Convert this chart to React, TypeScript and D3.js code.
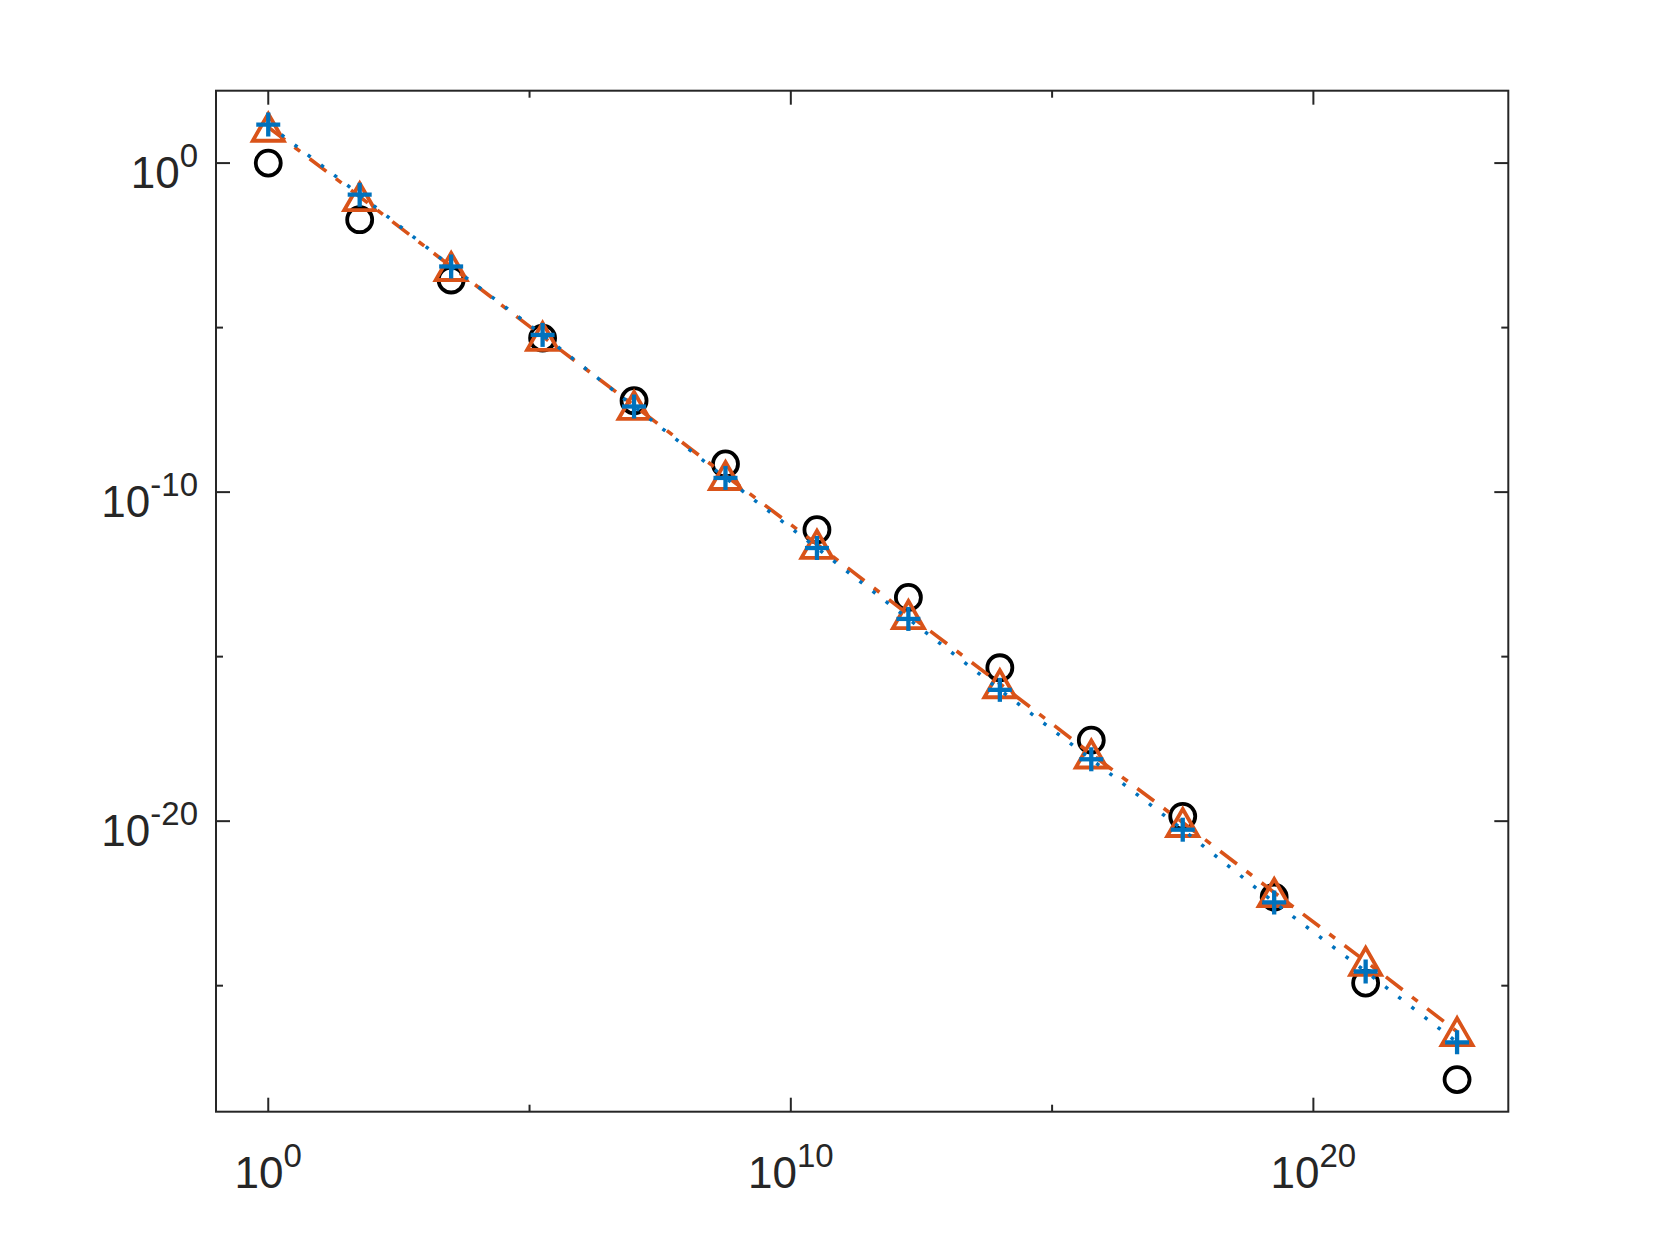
import React from "react";
import * as d3 from "d3";

// x positions of the samples
const xValues = [1, 56.2, 3162, 1.778e5, 1e7, 5.62e8, 3.162e10, 1.778e12, 1e14, 5.62e15, 3.162e17, 1.778e19, 1e21, 5.62e22];
// series 1: black circles (markers only)
const circleValues = [1.0, 1.9e-2, 2.8e-4, 4.8e-6, 6.0e-8, 7.2e-10, 7.2e-12, 6.3e-14, 4.6e-16, 2.9e-18, 1.4e-20, 4.9e-23, 1.2e-25, 1.4e-28];
// series 2: orange triangles, dash-dot line
const triangleValues = [12.3, 9.5e-2, 7.2e-4, 5.4e-6, 4.3e-8, 3.2e-10, 2.6e-12, 1.9e-14, 1.5e-16, 1.1e-18, 9.1e-21, 6.8e-23, 5.5e-25, 4.0e-27];
// series 3: blue plus, dotted line
const plusValues = [14.8, 0.11, 7.2e-4, 6.0e-6, 4.0e-8, 2.7e-10, 2.0e-12, 1.4e-14, 9.8e-17, 7.6e-19, 5.5e-21, 3.4e-23, 2.7e-25, 1.9e-27];

// axis ticks
const xMajorExp = [0, 10, 20];
const xMinorExp = [5, 15];
const yMajorExp = [0, -10, -20];
const yMinorExp = [-5, -15, -25];

const W = 1667;
const H = 1250;
const L = 216, R = 1508.3, T = 90.7, B = 1111.7;
const AX = "#262626";
const ORANGE = "#D95319";
const BLUE = "#0072BD";

export default function App() {
  const x = d3.scaleLog().domain([1e-1, Math.pow(10, 23.73)]).range([L, R]);
  const y = d3.scaleLog().domain([Math.pow(10, 2.2), Math.pow(10, -28.83)]).range([T, B]);

  const pts = (vals: number[]) => xValues.map((xv, i) => [x(xv), y(vals[i])] as [number, number]);
  const line = d3.line<[number, number]>().x((d) => d[0]).y((d) => d[1]);

  const cPts = pts(circleValues);
  const tPts = pts(triangleValues);
  const pPts = pts(plusValues);

  const majorLen = 14;
  const minorLen = 7;
  const font = "'Liberation Sans', Arial, Helvetica, sans-serif";

  const triPath = (cx: number, cy: number) => {
    const hw = 15.5, hh = 13.5;
    return `M${cx},${cy - hh}L${cx + hw},${cy + hh}L${cx - hw},${cy + hh}Z`;
  };

  return (
    <svg width={W} height={H} style={{ position: "absolute", left: 0, top: 0, background: "#fff" }}>
      <rect x={0} y={0} width={W} height={H} fill="#fff" />
      <defs>
        <clipPath id="plotclip">
          <rect x={L} y={T} width={R - L} height={B - T} />
        </clipPath>
      </defs>

      {/* ticks */}
      <g stroke={AX} strokeWidth={2}>
        {xMajorExp.map((e) => {
          const px = x(Math.pow(10, e));
          return (
            <g key={"xM" + e}>
              <line x1={px} x2={px} y1={B} y2={B - majorLen} />
              <line x1={px} x2={px} y1={T} y2={T + majorLen} />
            </g>
          );
        })}
        {xMinorExp.map((e) => {
          const px = x(Math.pow(10, e));
          return (
            <g key={"xm" + e}>
              <line x1={px} x2={px} y1={B} y2={B - minorLen} />
              <line x1={px} x2={px} y1={T} y2={T + minorLen} />
            </g>
          );
        })}
        {yMajorExp.map((e) => {
          const py = y(Math.pow(10, e));
          return (
            <g key={"yM" + e}>
              <line x1={L} x2={L + majorLen} y1={py} y2={py} />
              <line x1={R} x2={R - majorLen} y1={py} y2={py} />
            </g>
          );
        })}
        {yMinorExp.map((e) => {
          const py = y(Math.pow(10, e));
          return (
            <g key={"ym" + e}>
              <line x1={L} x2={L + minorLen} y1={py} y2={py} />
              <line x1={R} x2={R - minorLen} y1={py} y2={py} />
            </g>
          );
        })}
      </g>

      {/* data */}
      <g clipPath="url(#plotclip)">
        {cPts.map((p, i) => (
          <circle key={"c" + i} cx={p[0]} cy={p[1]} r={12.5} fill="none" stroke="#000" strokeWidth={3.8} />
        ))}
        <path d={line(tPts) || ""} fill="none" stroke={ORANGE} strokeWidth={3.6} strokeDasharray="21 12 7 12" />
        {tPts.map((p, i) => (
          <path key={"t" + i} d={triPath(p[0], p[1])} fill="none" stroke={ORANGE} strokeWidth={3.8} strokeLinejoin="miter" />
        ))}
        <path d={line(pPts) || ""} fill="none" stroke={BLUE} strokeWidth={3.5} strokeDasharray="3.5 13.1" />
        {pPts.map((p, i) => (
          <g key={"p" + i} stroke={BLUE} strokeWidth={4.3}>
            <line x1={p[0] - 12} x2={p[0] + 12} y1={p[1]} y2={p[1]} />
            <line x1={p[0]} x2={p[0]} y1={p[1] - 12} y2={p[1] + 12} />
          </g>
        ))}
      </g>

      {/* box */}
      <rect x={L} y={T} width={R - L} height={B - T} fill="none" stroke={AX} strokeWidth={2} />

      {/* tick labels */}
      <g fill={AX} fontFamily={font}>
        {xMajorExp.map((e) => (
          <text key={"xl" + e} x={x(Math.pow(10, e))} y={B + 76.6} textAnchor="middle" fontSize={44}>
            10<tspan fontSize={33} dy={-21}>{String(e)}</tspan>
          </text>
        ))}
        {yMajorExp.map((e) => (
          <text key={"yl" + e} x={198} y={y(Math.pow(10, e)) + 24.5} textAnchor="end" fontSize={44}>
            10<tspan fontSize={33} dy={-21}>{String(e)}</tspan>
          </text>
        ))}
      </g>
    </svg>
  );
}
